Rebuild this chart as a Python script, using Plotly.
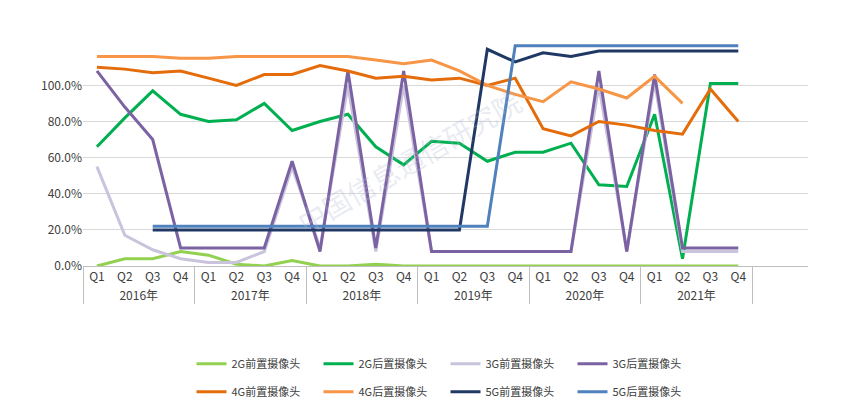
import plotly.graph_objects as go

years = [f"{y}年" for y in range(2016, 2022) for _ in range(4)]
quarters = ["Q1", "Q2", "Q3", "Q4"] * 6

g2_front = [0, 4, 4, 8, 6, 1, 0, 3, 0, 0, 1, 0, 0, 0, 0, 0, 0, 0, 0, 0, 0, 0, 0, 0]
g2_rear = [66, 82, 97, 84, 80, 81, 90, 75, 80, 84, 66, 56, 69, 68, 58, 63, 63, 68, 45, 44, 84, 4, 101, 101]
g3_front = [55, 17, 9, 4, 2, 2, 8, 55, 10, 100, 8, 100, 8, 8, 8, 8, 8, 8, 100, 8, 102, 8, 8, 8]
g3_rear = [108, 88, 70, 10, 10, 10, 10, 58, 8, 108, 10, 108, 8, 8, 8, 8, 8, 8, 108, 8, 106, 10, 10, 10]
g4_front = [110, 109, 107, 108, 104, 100, 106, 106, 111, 108, 104, 105, 103, 104, 100, 104, 76, 72, 80, 78, 75, 73, 98, 80]
g4_rear = [116, 116, 116, 115, 115, 116, 116, 116, 116, 116, 114, 112, 114, 108, 100, 95, 91, 102, 98, 93, 105, 90, None, None]
g5_front = [None, None, 20, 20, 20, 20, 20, 20, 20, 20, 20, 20, 20, 20, 120, 113, 118, 116, 119, 119, 119, 119, 119, 119]
g5_rear = [None, None, 22, 22, 22, 22, 22, 22, 22, 22, 22, 22, 22, 22, 22, 122, 122, 122, 122, 122, 122, 122, 122, 122]

series = [
    ("2G前置摄像头", g2_front, "#92d050"),
    ("2G后置摄像头", g2_rear, "#00b050"),
    ("3G前置摄像头", g3_front, "#c9c3dc"),
    ("3G后置摄像头", g3_rear, "#7b62a3"),
    ("4G前置摄像头", g4_front, "#e46c0a"),
    ("4G后置摄像头", g4_rear, "#f79646"),
    ("5G前置摄像头", g5_front, "#1f3864"),
    ("5G后置摄像头", g5_rear, "#4f81bd"),
]

fig = go.Figure()
for i, (name, vals, color) in enumerate(series):
    fig.add_trace(go.Scatter(
        x=[years, quarters], y=[v / 100 if v is not None else None for v in vals],
        name=name, mode="lines", line=dict(color=color, width=3), connectgaps=False,
        legend="legend" if i < 4 else "legend2"))

fig.add_annotation(text="中国信息通信研究院", x=0.45, y=0.45, xref="paper", yref="paper",
                   showarrow=False, textangle=-30, font=dict(size=28, color="rgba(180,185,210,0.3)"))

leg = dict(orientation="h", x=0.5, xanchor="center", yanchor="middle",
           font=dict(size=11), entrywidth=82, traceorder="normal", itemwidth=30)
fig.update_layout(
    width=842, height=413, margin=dict(l=75, r=42, t=25, b=155),
    paper_bgcolor="white", plot_bgcolor="white",
    font=dict(family="Noto Sans CJK SC", size=12, color="#404040"),
    legend=dict(leg, y=-0.42),
    legend2=dict(leg, y=-0.54),
    yaxis=dict(range=[0, 1.29], tickvals=[0, 0.2, 0.4, 0.6, 0.8, 1.0], tickformat=".1%",
               gridcolor="#d9d9d9", zeroline=False, ticksuffix=" "),
    xaxis=dict(range=[-0.5, 25.5], showdividers=True, dividercolor="#bfbfbf", showline=True,
               linecolor="#bfbfbf", tickfont=dict(size=12)),
)
fig.write_html("out.html")
